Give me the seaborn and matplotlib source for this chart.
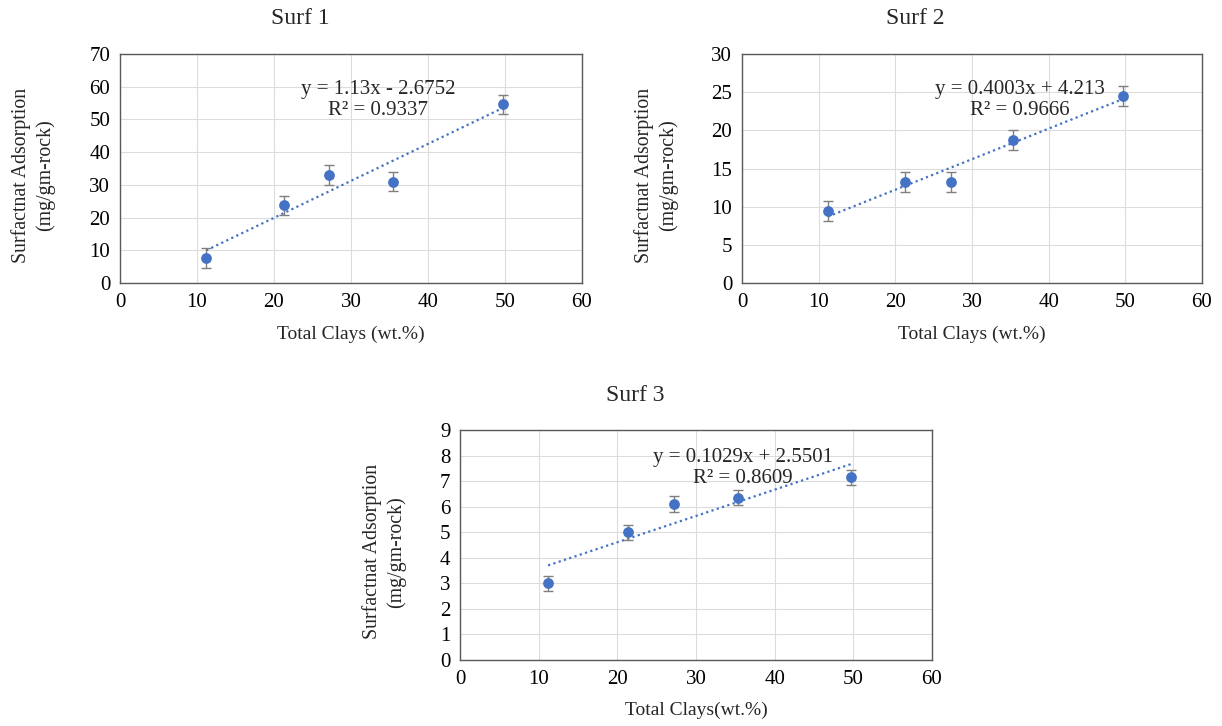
import matplotlib
matplotlib.use("Agg")
import matplotlib.pyplot as plt
import seaborn as sns
import numpy as np
import pandas as pd

# ---- data ----
clays = [11.2, 21.3, 27.2, 35.4, 49.7]
surf1 = [7.7, 23.7, 33.1, 31.0, 54.6]
surf1_err = [3.0, 3.0, 3.0, 3.0, 3.0]
surf2 = [9.4, 13.2, 13.2, 18.7, 24.5]
surf2_err = [1.3, 1.3, 1.3, 1.3, 1.3]
surf3 = [3.0, 5.0, 6.1, 6.35, 7.15]
surf3_err = [0.3, 0.3, 0.3, 0.3, 0.3]
slopes = [1.13, 0.4003, 0.1029]
intercepts = [-2.6752, 4.213, 2.5501]
eq_labels = ["y = 1.13x - 2.6752", "y = 0.4003x + 4.213", "y = 0.1029x + 2.5501"]
r2_labels = ["R² = 0.9337", "R² = 0.9666", "R² = 0.8609"]
titles = ["Surf 1", "Surf 2", "Surf 3"]
xlabels = ["Total Clays (wt.%)", "Total Clays (wt.%)", "Total Clays(wt.%)"]
ylabel = "Surfactnat Adsorption\n(mg/gm-rock)"
ymaxes = [70, 30, 9]
ysteps = [10, 5, 1]

sns.set_theme(style="whitegrid")
plt.rcParams['font.family'] = ['Liberation Serif', 'DejaVu Serif']

W, H = 1222, 726
fig = plt.figure(figsize=(W / 100, H / 100), dpi=100)

# pixel boxes: left, top, right, bottom
boxes = [(120, 54, 582, 283), (742, 54, 1202, 283), (460, 430, 932, 660)]
title_pos = [(300, 18), (915, 18), (635, 396)]
eq_pos = [(33.5, 59.0, 52.6), (36.3, 25.3, 22.6), (36.0, 7.92, 7.1)]
ylab_px = [55, 678, 406]   # right edge of the y label block
xlab_top_px = [326, 326, 702]

blue = "#4472C4"
for i in range(3):
    l, t, r, b = boxes[i]
    ax = fig.add_axes([l / W, 1 - b / H, (r - l) / W, (b - t) / H])
    ys = [surf1, surf2, surf3][i]
    errs = [surf1_err, surf2_err, surf3_err][i]
    df = pd.DataFrame({"x": clays, "y": ys})
    ax.errorbar(clays, ys, yerr=errs, fmt="none", ecolor="#7f7f7f",
                elinewidth=1.0, capsize=3.5, capthick=1.0, zorder=3)
    sns.scatterplot(data=df, x="x", y="y", ax=ax, color=blue, s=60,
                    edgecolor=blue, linewidth=0, zorder=4)
    xl = np.array([clays[0], clays[-1]])
    fit = pd.DataFrame({"x": xl, "y": slopes[i] * xl + intercepts[i]})
    sns.lineplot(data=fit, x="x", y="y", ax=ax, color=blue,
                 linestyle=(0, (1, 1.5)), linewidth=1.6, zorder=2)
    ax.set_xlim(0, 60)
    ax.set_ylim(0, ymaxes[i])
    ax.set_xticks(np.arange(0, 61, 10))
    ax.set_yticks(np.arange(0, ymaxes[i] + 0.01, ysteps[i]))
    ax.grid(True, color="#dcdcdc", linewidth=0.8)
    for sp in ax.spines.values():
        sp.set_color("#595959")
        sp.set_linewidth(1.0)
    ax.tick_params(axis="both", length=0, labelsize=15, colors="black", pad=7)
    ax.set_xlabel(xlabels[i], fontsize=14)
    ax.set_ylabel(ylabel, fontsize=14.3, linespacing=1.3)
    ax.xaxis.set_label_coords(0.5, -(xlab_top_px[i] - b) / (b - t))
    ax.yaxis.set_label_coords((ylab_px[i] - l) / (r - l), 0.47)
    ex, ey1, ey2 = eq_pos[i]
    ax.text(ex, ey1, eq_labels[i], ha="center", va="center", fontsize=15)
    ax.text(ex, ey2, r2_labels[i], ha="center", va="center", fontsize=15)
    tx, ty = title_pos[i]
    fig.text(tx / W, 1 - ty / H, titles[i], ha="center", va="center", fontsize=17)

fig.savefig("out.png", dpi=100, facecolor="white")
